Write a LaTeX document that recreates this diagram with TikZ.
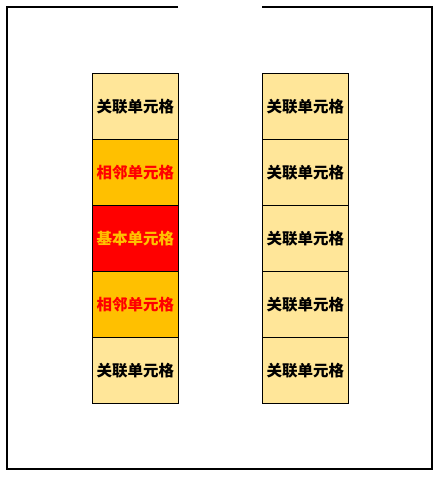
\documentclass[tikz,border=0pt]{standalone}
\usepackage{fontspec}
\newfontfamily\cjk{Noto Sans CJK SC}
\definecolor{lightcell}{HTML}{FFE699}
\definecolor{orangecell}{HTML}{FFC000}
\definecolor{redcell}{HTML}{FF0000}
\tikzset{
  cell/.style={draw=black, line width=0.8pt, minimum width=86pt, minimum height=66pt, inner sep=0pt, font=\cjk\bfseries\fontsize{15.5pt}{17pt}\selectfont, anchor=north west},
  related/.style={cell, fill=lightcell, text=black},
  adjacent/.style={cell, fill=orangecell, text=redcell},
  basic/.style={cell, fill=redcell, text=orangecell},
  frame/.style={line width=2.4pt, draw=black}
}
\begin{document}
\begin{tikzpicture}[x=1pt,y=-1pt]
\useasboundingbox (0,0) rectangle (441,479);
\draw[frame] (178,7) -- (7,7) -- (7,469) -- (432,469) -- (432,7) -- (262,7);
\node[related]  (l1) at (92,73)  {关联单元格};
\node[adjacent] (l2) at (92,139) {相邻单元格};
\node[basic]    (l3) at (92,205) {基本单元格};
\node[adjacent] (l4) at (92,271) {相邻单元格};
\node[related]  (l5) at (92,337) {关联单元格};
\node[related]  (r1) at (262,73)  {关联单元格};
\node[related]  (r2) at (262,139) {关联单元格};
\node[related]  (r3) at (262,205) {关联单元格};
\node[related]  (r4) at (262,271) {关联单元格};
\node[related]  (r5) at (262,337) {关联单元格};
\end{tikzpicture}
\end{document}
